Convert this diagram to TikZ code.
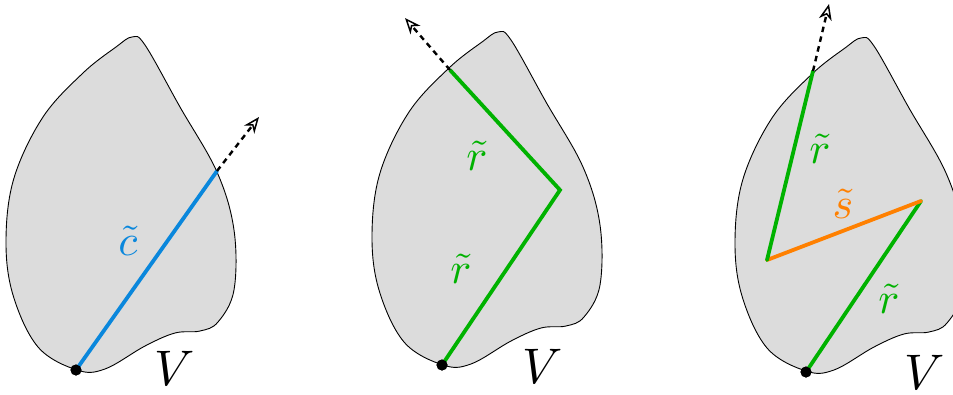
\documentclass[tikz,border=0pt]{standalone}
\usepackage{graphicx}
\usetikzlibrary{arrows.meta}
\definecolor{blobfill}{RGB}{220,220,220}
\definecolor{cblue}{RGB}{10,135,220}
\definecolor{cgreen}{RGB}{0,178,0}
\definecolor{corange}{RGB}{255,128,0}
\newcommand\blobshape{plot[smooth cycle, tension=0.6] coordinates {(77,370) (38,347) (13,295) (6,240) (14,178) (43,117) (83,73) (116,47) (132,37) (145,45) (180,107) (217,172) (234,230) (234,290) (218,322) (200,331) (175,333) (145,346) (105,369)}}
\newcommand\biglab[1]{\scalebox{4.4}{$#1$}}
\newcommand\bigV{\scalebox{5}{$V$}}
\tikzset{
  blob/.style={draw=black, line width=0.9pt, fill=blobfill},
  ray/.style={line width=3.8pt, line cap=round},
  ext/.style={line width=2.4pt, dash pattern=on 5.5pt off 4.5pt, -{Stealth[open, length=16pt, width=13pt, inset=5pt, line width=1.5pt]}},
  startdot/.style={circle, fill=black, inner sep=0pt, minimum size=11pt},
  lab/.style={anchor=base, inner sep=0pt}
}
\begin{document}
\begin{tikzpicture}[x=1pt, y=-1pt]
\useasboundingbox (0,0) rectangle (953,394);
% blobs
\draw[blob] \blobshape;
\begin{scope}[shift={(366,-5)}]
\draw[blob] \blobshape;
\end{scope}
\begin{scope}[shift={(729,1)}]
\draw[blob] \blobshape;
\end{scope}
% panel 1
\node[startdot] (d1) at (76,370) {};
\coordinate (e1) at (217,171);
\coordinate (t1) at (259,117);
\draw[ray, cblue] (d1.center) -- (e1);
\draw[ext] (e1) -- (t1);
\node[startdot] at (d1) {};
\node[lab, text=cblue] (c1) at (128,255) {\biglab{\tilde{c}}};
\node[lab] (v1) at (175,385) {\bigV};
% panel 2
\node[startdot] (d2) at (442,365) {};
\coordinate (a2) at (560,190);
\coordinate (e2) at (450,70);
\coordinate (t2) at (405,18);
\draw[ray, cgreen, line cap=butt] (d2.center) -- (a2) -- (e2);
\draw[ext] (e2) -- (t2);
\node[startdot] at (d2) {};
\node[lab, text=cgreen] (r2a) at (477,170) {\biglab{\tilde{r}}};
\node[lab, text=cgreen] (r2b) at (461,283) {\biglab{\tilde{r}}};
\node[lab] (v2) at (543,383) {\bigV};
% panel 3
\node[startdot] (d3) at (806,372) {};
\coordinate (a3) at (921,201);
\coordinate (b3) at (767,260);
\coordinate (e3) at (813,71);
\coordinate (t3) at (829,4);
\draw[ray, cgreen] (d3.center) -- (a3);
\draw[ray, corange] (a3) -- (b3);
\draw[ray, cgreen] (b3) -- (e3);
\draw[ext] (e3) -- (t3);
\node[startdot] at (d3) {};
\node[lab, text=cgreen] (r3a) at (820,163) {\biglab{\tilde{r}}};
\node[lab, text=corange] (s3) at (843,218) {\biglab{\tilde{s}}};
\node[lab, text=cgreen] (r3b) at (889,313) {\biglab{\tilde{r}}};
\node[lab] (v3) at (925,389) {\bigV};
\end{tikzpicture}
\end{document}
